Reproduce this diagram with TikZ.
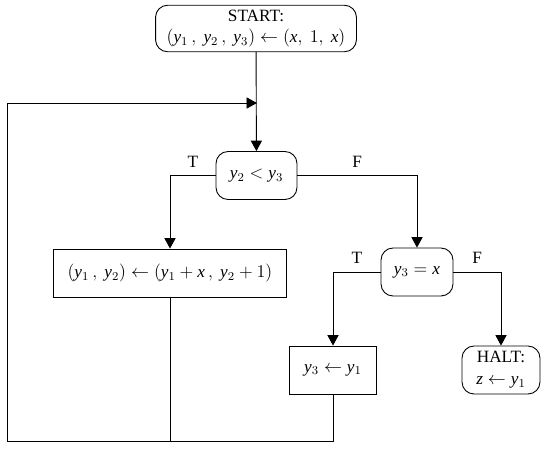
\documentclass[tikz,border=0pt]{standalone}
\usepackage{fontspec}
\setmainfont{Liberation Serif}
\usetikzlibrary{arrows.meta}

\newcommand{\vy}[1]{\mathit{y}_{#1}}
\newcommand{\vx}{\mathit{x}}

\tikzset{
  stepbox/.style = {draw, rectangle, minimum height = 32pt, inner sep = 3pt},
  testbox/.style = {draw, rounded corners = 8pt, minimum height = 32pt, inner sep = 2pt, align = center},
  flow/.style = {-{Triangle[length = 7pt, width = 7.5pt]}}
}

\begin{document}
\begin{tikzpicture}[x = 0.667pt, y = -0.667pt, line width = 0.6pt,
        every node/.style = {font = \fontsize{11.5pt}{14.5pt}\selectfont}]
        \useasboundingbox (0, 0) rectangle (545, 449);
        \node[testbox, minimum width = 134pt, minimum height = 31pt] (start) at (256, 28.5)
            {START:\\$(\vy1\,,\ \vy2\,,\ \vy3) \leftarrow (\vx,\ 1,\ \vx)$};
        \node[testbox, minimum width = 54pt] (test1) at (256.5, 175.5) {$\vy2 < \vy3$};
        \node[stepbox, minimum width = 156pt] (assign) at (170, 273)
            {$(\vy1\,,\ \vy2) \leftarrow (\vy1 + \vx\,,\ \vy2 + 1)$};
        \node[testbox, minimum width = 48pt] (test2) at (417, 272) {$\vy3 = \vx$};
        \node[stepbox, minimum width = 58.5pt] (swap) at (333, 370) {$\vy3 \leftarrow \vy1$};
        \node[testbox, minimum width = 52pt] (halt) at (501, 370)
            {HALT:\\$\mathit{z} \leftarrow \vy1$};
        \coordinate (merge) at (257, 103);
        \coordinate (corner) at (7, 441);
        \draw[flow] (start) -- (test1);
        \draw[flow] (test1.west) -| node[above, pos = 0.25, yshift = 2pt]{T} (assign.north);
        \draw[flow] (test1.east) -| node[above, pos = 0.25, yshift = 2pt]{F} (test2.north);
        \draw[flow] (test2.west) -| node[above, pos = 0.25, yshift = 2pt]{T} (swap.north);
        \draw[flow] (test2.east) -| node[above, pos = 0.25, yshift = 2pt]{F} (halt.north);
        \draw (assign.south) -- (assign.south |- corner);
        \draw[flow] (swap.south) |- (corner) |- (merge);
\end{tikzpicture}
\end{document}
